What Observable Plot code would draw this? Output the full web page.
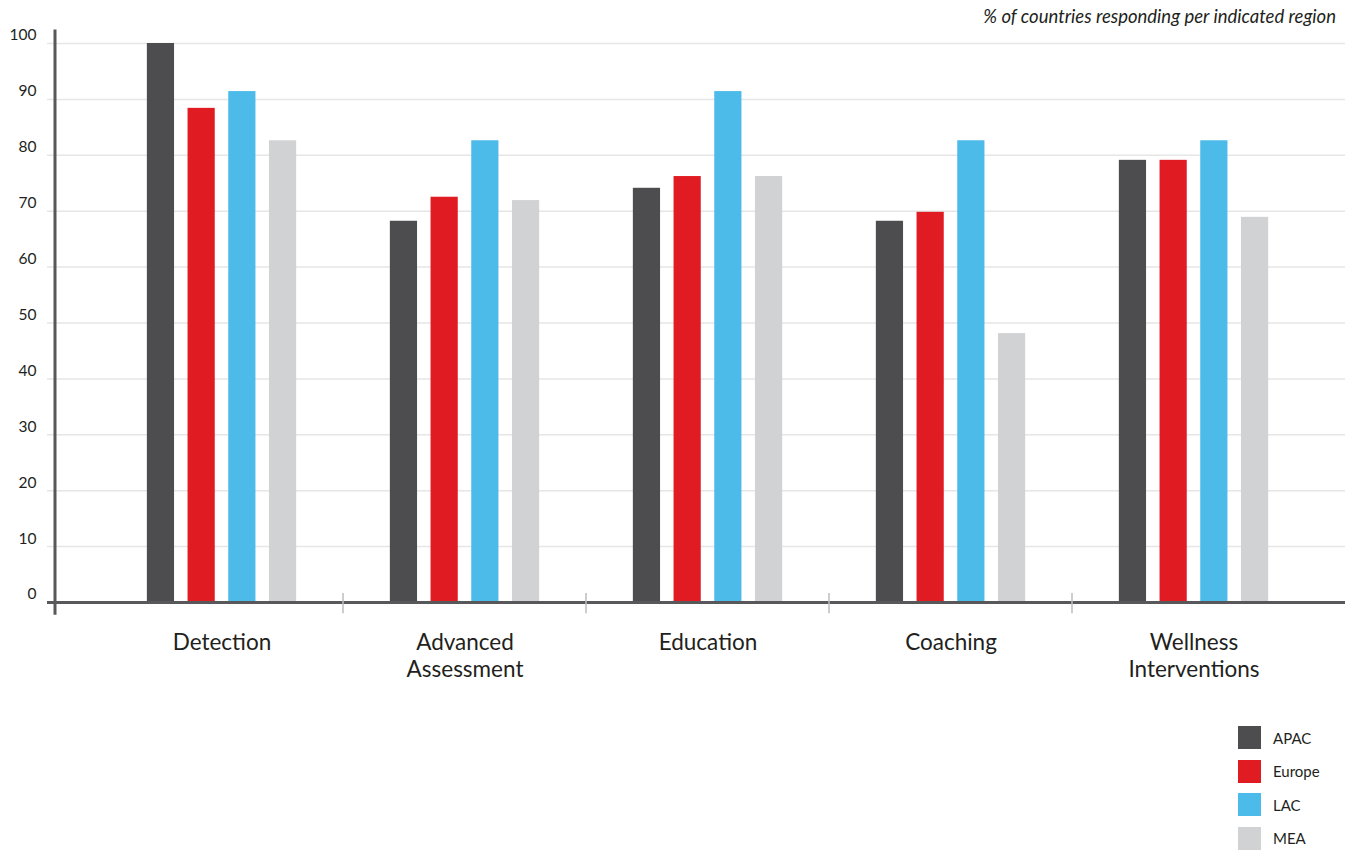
<!DOCTYPE html>
<html>
<head>
<meta charset="utf-8">
<script src="https://cdn.jsdelivr.net/npm/d3@7"></script>
<script src="https://cdn.jsdelivr.net/npm/@observablehq/plot@0.6"></script>
<style>
  html, body { margin: 0; padding: 0; background: #fff; }
  body { font-family: Lato, "Open Sans", sans-serif; color: #231f20; width: 1348px; height: 850px; overflow: hidden; position: relative; }
  #subtitle { position: absolute; top: 5px; right: 12px; font-style: italic; font-size: 18.5px; color: #231f20; }
  #chart svg { display: block; overflow: visible; }
  #legend { margin-left: 1238px; margin-top: 26px; display: flex; flex-direction: column; gap: 10.5px; }
  .li { display: flex; align-items: center; height: 23px; font-size: 15px; color: #231f20; }
  .sw { width: 23px; height: 23px; margin-right: 12px; }
</style>
</head>
<body>
<div id="subtitle">% of countries responding per indicated region</div>
<div id="chart"></div>
<div id="legend"></div>
<script>
const categories = ["Detection", "Advanced Assessment", "Education", "Coaching", "Wellness Interventions"];
const categoryLabels = ["Detection", "Advanced\nAssessment", "Education", "Coaching", "Wellness\nInterventions"];
const regions = ["APAC", "Europe", "LAC", "MEA"];
const regionColors = ["#4d4d4f", "#e11b22", "#4cbbea", "#d1d2d4"];
const apac = [100, 68.2, 74.1, 68.2, 79.1];
const europe = [88.4, 72.5, 76.2, 69.8, 79.1];
const lac = [91.4, 82.6, 91.4, 82.6, 82.6];
const mea = [82.6, 71.9, 76.2, 48.1, 68.9];
const yTicks = [0, 10, 20, 30, 40, 50, 60, 70, 80, 90, 100];

const seriesValues = [apac, europe, lac, mea];
const data = [];
regions.forEach((r, j) => categories.forEach((c, i) => data.push({category: c, region: r, value: seriesValues[j][i]})));

const step = (1317 - 98) / categories.length;
const barW = 28, pitch = 40.7;
const base = (step - barW) / 2;

const barMarks = regions.map((r, j) => {
  const o = (j - 1.5) * pitch;
  return Plot.barY(data.filter(d => d.region === r), {
    x: "category", y: "value", fill: regionColors[j],
    insetLeft: base + o, insetRight: base - o
  });
});

// vertical axis line and group separators, drawn through the plot's scales
const decor = (index, scales, values, dim) => {
  const g = d3.create("svg:g");
  const x0 = dim.marginLeft + 8;
  g.append("line").attr("x1", x0).attr("x2", x0)
    .attr("y1", scales.y(102.4)).attr("y2", scales.y(-2.3))
    .attr("stroke", "#58585a").attr("stroke-width", 3);
  categories.slice(1).forEach(c => {
    const xx = scales.x(c);
    g.append("line").attr("x1", xx).attr("x2", xx)
      .attr("y1", scales.y(1.6)).attr("y2", scales.y(-2))
      .attr("stroke", "#bdbdbd").attr("stroke-width", 1.5);
  });
  return g.node();
};

const chart = Plot.plot({
  width: 1348,
  height: 700,
  marginLeft: 47,
  marginRight: 3,
  marginTop: 43,
  marginBottom: 98,
  style: {fontFamily: "Lato, 'Open Sans', sans-serif", color: "#231f20", background: "#fff"},
  x: {domain: categories, range: [98, 1317], padding: 0, axis: null},
  y: {domain: [0, 100], axis: null},
  marks: [
    Plot.ruleY(yTicks.slice(1), {stroke: "#e6e6e6", strokeWidth: 1.5}),
    ...barMarks,
    Plot.ruleY([0], {stroke: "#58585a", strokeWidth: 3}),
    decor,
    Plot.text(yTicks, {y: d => d, frameAnchor: "left", textAnchor: "end", dx: -11, dy: -8, fontSize: 15.5, fill: "#231f20"}),
    Plot.text(categories, {x: d => d, text: (d, i) => categoryLabels[i], frameAnchor: "bottom", lineAnchor: "top", dy: 28, fontSize: 22.5, lineHeight: 1.2, fill: "#231f20"})
  ]
});
document.getElementById("chart").appendChild(chart);

const legend = document.getElementById("legend");
regions.forEach((r, j) => {
  const it = document.createElement("div");
  it.className = "li";
  it.innerHTML = `<span class="sw" style="background:${regionColors[j]}"></span><span>${r}</span>`;
  legend.appendChild(it);
});
</script>
</body>
</html>
